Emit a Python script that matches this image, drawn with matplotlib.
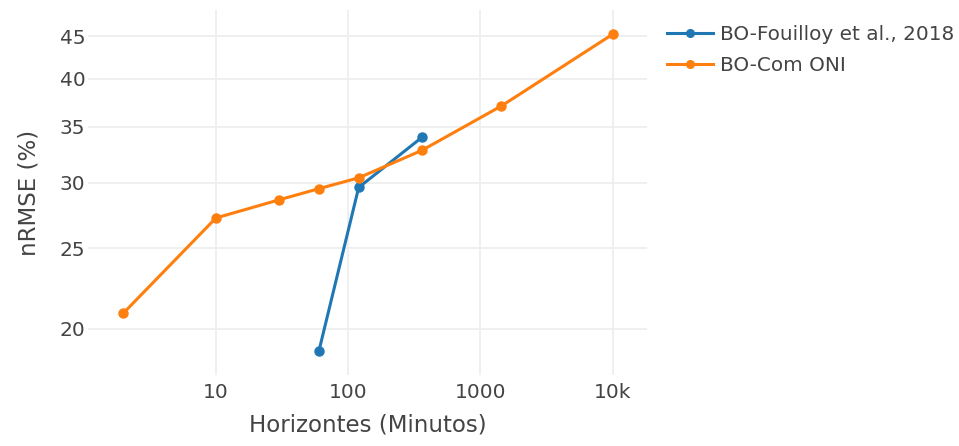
import matplotlib
matplotlib.use("Agg")
import matplotlib.pyplot as plt
from matplotlib.ticker import FixedLocator, NullLocator

# forecast horizons in minutes and the error for each model
horizons_fouilloy = [60, 120, 360]
nrmse_fouilloy = [18.8, 29.6, 34.0]

horizons_oni = [2, 10, 30, 60, 120, 360, 1440, 10080]
nrmse_oni = [20.9, 27.2, 28.6, 29.5, 30.4, 32.8, 37.1, 45.3]

x_ticks = [10, 100, 1000, 10000]
x_tick_labels = ["10", "100", "1000", "10k"]
y_ticks = [20, 25, 30, 35, 40, 45]

TEXT_COLOR = "#444444"
GRID_COLOR = "#eeeeee"

plt.rcParams["font.family"] = ["DejaVu Sans"]

fig = plt.figure(figsize=(9.59, 4.46), dpi=100)
ax = fig.add_axes([0.0918, 0.159, 0.5829, 0.8186])

ax.plot(horizons_fouilloy, nrmse_fouilloy, color="#1f77b4", lw=2.2,
        marker="o", ms=6.5, label="BO-Fouilloy et al., 2018", zorder=3)
ax.plot(horizons_oni, nrmse_oni, color="#ff7f0e", lw=2.2,
        marker="o", ms=6.5, label="BO-Com ONI", zorder=3)

ax.set_xscale("log")
ax.set_yscale("log")
ax.set_xlim(1.08, 18150)
ax.set_ylim(17.6, 48.4)

ax.xaxis.set_major_locator(FixedLocator(x_ticks))
ax.xaxis.set_minor_locator(NullLocator())
ax.set_xticklabels(x_tick_labels)
ax.yaxis.set_major_locator(FixedLocator(y_ticks))
ax.yaxis.set_minor_locator(NullLocator())
ax.set_yticklabels([str(v) for v in y_ticks])

ax.grid(True, color=GRID_COLOR, lw=1.3)
ax.set_axisbelow(True)
for s in ax.spines.values():
    s.set_visible(False)
ax.tick_params(length=0, labelsize=14.5, colors=TEXT_COLOR)
ax.tick_params(axis="y", pad=2)
ax.tick_params(axis="x", pad=6)

ax.set_xlabel("Horizontes (Minutos)", fontsize=16.5, color=TEXT_COLOR, labelpad=8)
ax.set_ylabel("nRMSE (%)", fontsize=16.5, color=TEXT_COLOR, labelpad=14)

# legend sits to the right of the plot area
leg = fig.legend(loc="upper left", bbox_to_anchor=(0.687, 0.962), frameon=False,
                 fontsize=14.4, handlelength=2.3, handletextpad=0.35,
                 labelspacing=0.62, borderaxespad=0.0, markerscale=0.85)
for t in leg.get_texts():
    t.set_color(TEXT_COLOR)

fig.savefig("out.png", dpi=100)
